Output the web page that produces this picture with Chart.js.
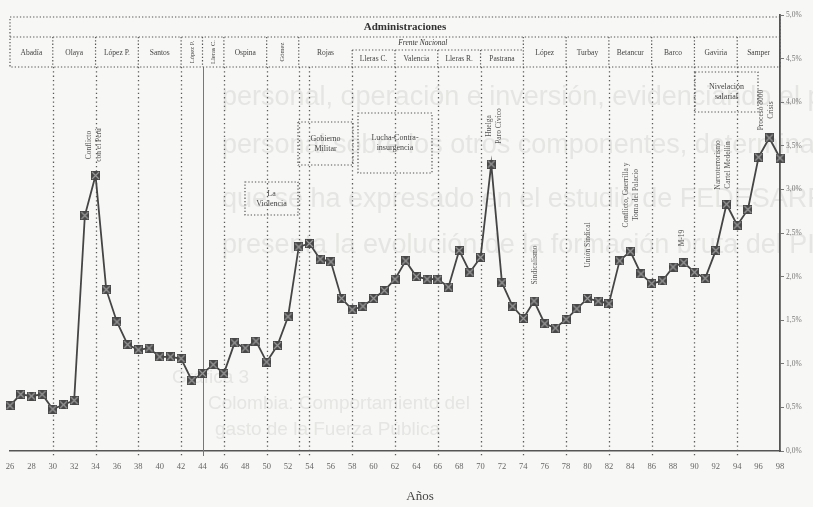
<!DOCTYPE html>
<html>
<head>
<meta charset="utf-8">
<script src="https://cdn.jsdelivr.net/npm/chart.js@4"></script>
<style>
  body { margin: 0; background: #f7f7f5; }
  canvas { display: block; }
</style>
</head>
<body>
<canvas id="gastoChart" width="813" height="507"></canvas>
<script>
// gasto de la Fuerza Publica, % del PIB
var years = [1926, 1927, 1928, 1929, 1930, 1931, 1932, 1933, 1934, 1935, 1936, 1937, 1938, 1939, 1940, 1941,
  1942, 1943, 1944, 1945, 1946, 1947, 1948, 1949, 1950, 1951, 1952, 1953, 1954, 1955, 1956, 1957, 1958, 1959,
  1960, 1961, 1962, 1963, 1964, 1965, 1966, 1967, 1968, 1969, 1970, 1971, 1972, 1973, 1974, 1975, 1976, 1977,
  1978, 1979, 1980, 1981, 1982, 1983, 1984, 1985, 1986, 1987, 1988, 1989, 1990, 1991, 1992, 1993, 1994, 1995,
  1996, 1997, 1998];
var gasto = [0.52, 0.65, 0.63, 0.65, 0.48, 0.53, 0.58, 2.70, 3.16, 1.85, 1.48, 1.22, 1.16, 1.18, 1.08, 1.08,
  1.06, 0.81, 0.89, 0.99, 0.89, 1.24, 1.18, 1.26, 1.02, 1.21, 1.54, 2.34, 2.38, 2.20, 2.17, 1.75, 1.62, 1.66,
  1.75, 1.84, 1.97, 2.18, 2.00, 1.97, 1.97, 1.88, 2.30, 2.05, 2.22, 3.29, 1.93, 1.66, 1.52, 1.72, 1.46, 1.41,
  1.51, 1.63, 1.75, 1.72, 1.69, 2.18, 2.29, 2.03, 1.92, 1.95, 2.11, 2.16, 2.05, 1.98, 2.30, 2.83, 2.59, 2.77,
  3.37, 3.59, 3.36];

// administraciones (cabecera)
var adminNames = ['Abadía', 'Olaya', 'López P.', 'Santos', 'López P.', 'Lleras C.', 'Ospina', 'Gómez', 'Rojas',
  'Lleras C.', 'Valencia', 'Lleras R.', 'Pastrana', 'López', 'Turbay', 'Betancur', 'Barco', 'Gaviria', 'Samper'];
var adminStart = [1926, 1930, 1934, 1938, 1942, 1944, 1946, 1950, 1953, 1958, 1962, 1966, 1970, 1974, 1978, 1982, 1986, 1990, 1994];
var adminEnd   = [1930, 1934, 1938, 1942, 1944, 1946, 1950, 1953, 1958, 1962, 1966, 1970, 1974, 1978, 1982, 1986, 1990, 1994, 1998];
var adminVertical = [false, false, false, false, true, true, false, true, false, false, false, false, false, false, false, false, false, false, false];
var frenteStart = 1958, frenteEnd = 1974;

// lineas verticales punteadas
var boundaryYears = [1930, 1934, 1938, 1942, 1946, 1950, 1953, 1954, 1958, 1962, 1966, 1970, 1974, 1978, 1982, 1986, 1990, 1994];
var solidYear = 1944;

// recuadros de eventos
var boxTexts = [['La', 'Violencia'], ['Gobierno', 'Militar'], ['Lucha-Contra-', 'insurgencia'], ['Nivelación', 'salarial']];

// textos verticales de eventos
var eventTexts = [['Conflicto', 'con el Perú'], ['Huelga', 'Paro Cívico'], ['Sindicalismo'], ['Unión Sindical'],
  ['Conflicto, Guerrilla y', 'Toma del Palacio'], ['M-19'], ['Narcoterrorismo', 'Cartel Medellín'], ['Proceso 8000', 'Crisis']];

// texto del reverso de la hoja (se transparenta)
var bleedLines = ['personal, operación e inversión, evidenciando el p',
  'personal sobre los otros componentes, determinando',
  'que se ha expresado en el estudio de FEDESARROLLO',
  'presenta la evolución de la formación bruta del PIB e'];

var serif = '"Liberation Serif", "DejaVu Serif", serif';

// marcador: cuadro con cruz
function makeMarker() {
  var c = document.createElement('canvas');
  c.width = 9; c.height = 9;
  var g = c.getContext('2d');
  g.fillStyle = '#474747';
  g.fillRect(0, 0, 9, 9);
  g.strokeStyle = '#999';
  g.lineWidth = 1.2;
  g.beginPath();
  g.moveTo(1, 1); g.lineTo(8, 8);
  g.moveTo(8, 1); g.lineTo(1, 8);
  g.stroke();
  return c;
}

function dotted(ctx, x1, y1, x2, y2) {
  ctx.beginPath();
  ctx.moveTo(x1, y1);
  ctx.lineTo(x2, y2);
  ctx.stroke();
}

var bleedPlugin = {
  id: 'bleed',
  beforeDraw: function (chart) {
    var ctx = chart.ctx;
    ctx.save();
    ctx.fillStyle = '#e5e5e3';
    ctx.font = '27px "Liberation Sans", Arial, sans-serif';
    ctx.textBaseline = 'middle';
    ctx.fillText(bleedLines[0], 222, 98);
    ctx.fillText(bleedLines[1], 222, 146);
    ctx.fillText(bleedLines[2], 222, 200);
    ctx.fillText(bleedLines[3], 222, 246);
    ctx.font = '19px "Liberation Sans", Arial, sans-serif';
    ctx.fillText('Gráfica 3', 172, 378);
    ctx.fillText('Colombia: Comportamiento del', 208, 404);
    ctx.fillText('gasto de la Fuerza Pública', 215, 430);
    ctx.restore();
  }
};

var annotPlugin = {
  id: 'annot',
  beforeDatasetsDraw: function (chart) {
    var ctx = chart.ctx;
    var xs = chart.scales.x;
    var top = 17, row = 37, bottom = 67;
    var axisY = chart.chartArea.bottom;
    var left = xs.getPixelForValue(1926), right = xs.getPixelForValue(1998);
    ctx.save();

    // lineas verticales
    ctx.strokeStyle = '#5a5a5a';
    ctx.lineWidth = 1.3;
    ctx.setLineDash([1.3, 3]);
    boundaryYears.forEach(function (yr) {
      var x = Math.round(xs.getPixelForValue(yr)) + 0.5;
      dotted(ctx, x, bottom, x, axisY + 5);
    });
    ctx.setLineDash([]);
    ctx.strokeStyle = '#777';
    ctx.lineWidth = 1;
    var sx = Math.round(xs.getPixelForValue(solidYear)) + 0.5;
    dotted(ctx, sx, bottom, sx, axisY + 5);

    // cabecera
    ctx.setLineDash([1.3, 2]);
    ctx.strokeStyle = '#555';
    ctx.lineWidth = 1.2;
    ctx.strokeRect(left, top, right - left, bottom - top);
    dotted(ctx, left, row, right, row);
    var fx1 = xs.getPixelForValue(frenteStart), fx2 = xs.getPixelForValue(frenteEnd);
    var sub = 50;
    dotted(ctx, fx1, sub, fx2, sub);
    ctx.fillStyle = '#333';
    ctx.font = 'bold 11px ' + serif;
    ctx.textAlign = 'center';
    ctx.textBaseline = 'middle';
    ctx.fillText('Administraciones', 405, 27);
    ctx.font = 'italic 7.5px ' + serif;
    ctx.fillText('Frente Nacional', (fx1 + fx2) / 2 - 15, 43);

    for (var i = 0; i < adminNames.length; i++) {
      var x1 = xs.getPixelForValue(adminStart[i]);
      var x2 = xs.getPixelForValue(adminEnd[i]);
      var inFrente = adminStart[i] >= frenteStart && adminEnd[i] <= frenteEnd;
      var cellTop = inFrente ? sub : row;
      if (i > 0) dotted(ctx, x1, cellTop, x1, bottom);
      ctx.fillStyle = '#444';
      ctx.font = '7.5px ' + serif;
      var cx = (x1 + x2) / 2, cy = (cellTop + bottom) / 2;
      if (adminVertical[i]) {
        ctx.save();
        ctx.translate(cx, cy);
        ctx.rotate(-Math.PI / 2);
        ctx.font = '6.5px ' + serif;
        ctx.fillText(adminNames[i], 0, 0);
        ctx.restore();
      } else {
        ctx.fillText(adminNames[i], cx, cy + 1);
      }
    }

    // recuadros
    var boxes = [[245, 182, 53, 33], [298, 122, 55, 43], [358, 113, 74, 60], [695, 72, 63, 40]];
    ctx.strokeStyle = '#555';
    ctx.lineWidth = 1.2;
    boxes.forEach(function (b, k) {
      ctx.strokeRect(b[0], b[1], b[2], b[3]);
      ctx.fillStyle = '#444';
      ctx.font = '8px ' + serif;
      var lines = boxTexts[k];
      var mid = b[1] + b[3] / 2;
      ctx.fillText(lines[0], b[0] + b[2] / 2, mid - 5);
      ctx.fillText(lines[1], b[0] + b[2] / 2, mid + 5);
    });

    // textos verticales
    var spots = [[94, 145], [494, 126], [535, 265], [588, 245], [631, 195], [682, 238], [723, 165], [766, 110]];
    ctx.font = '7.5px ' + serif;
    ctx.fillStyle = '#555';
    spots.forEach(function (p, k) {
      var lines = eventTexts[k];
      ctx.save();
      ctx.translate(p[0], p[1]);
      ctx.rotate(-Math.PI / 2);
      if (lines.length === 1) {
        ctx.fillText(lines[0], 0, 0);
      } else {
        ctx.fillText(lines[0], 0, -5);
        ctx.fillText(lines[1], 0, 5);
      }
      ctx.restore();
    });

    // titulo del eje
    ctx.fillStyle = '#444';
    ctx.font = '13px ' + serif;
    ctx.fillText('Años', 420, 497);
    ctx.restore();
  }
};

var points = years.map(function (yr, i) { return { x: yr, y: gasto[i] }; });

var gastoChart = new Chart(document.getElementById('gastoChart'), {
  type: 'line',
  data: {
    datasets: [{
      label: 'Gasto Fuerza Pública / PIB',
      data: points,
      borderColor: '#454545',
      borderWidth: 1.8,
      pointStyle: makeMarker(),
      pointRadius: 4,
      tension: 0,
      clip: false
    }]
  },
  options: {
    responsive: false,
    animation: false,
    layout: { autoPadding: false, padding: { left: 10, top: 15, right: 0, bottom: 0 } },
    plugins: { legend: { display: false }, tooltip: { enabled: false } },
    scales: {
      x: {
        type: 'linear',
        min: 1926,
        max: 1998,
        afterFit: function (s) { s.height = 56; s.paddingLeft = 0; },
        grid: { display: false, drawTicks: false },
        border: { display: true, color: '#555', width: 1.4, dash: [1.3, 2] },
        ticks: {
          stepSize: 2,
          padding: 11,
          color: '#666',
          font: { family: serif, size: 8.5 },
          maxRotation: 0,
          autoSkip: false,
          callback: function (v) { return String(v).slice(2); }
        }
      },
      y: {
        position: 'right',
        min: 0,
        max: 5,
        afterFit: function (s) { s.width = 33; },
        grid: { drawOnChartArea: false, drawTicks: true, tickLength: 4, color: '#777' },
        border: { display: true, color: '#555', width: 1.8, dash: [1.3, 2] },
        ticks: {
          stepSize: 0.5,
          padding: 2,
          color: '#777',
          font: { family: serif, size: 7.5 },
          callback: function (v) { return v.toFixed(1).replace('.', ',') + '%'; }
        }
      }
    }
  },
  plugins: [bleedPlugin, annotPlugin]
});
</script>
</body>
</html>
